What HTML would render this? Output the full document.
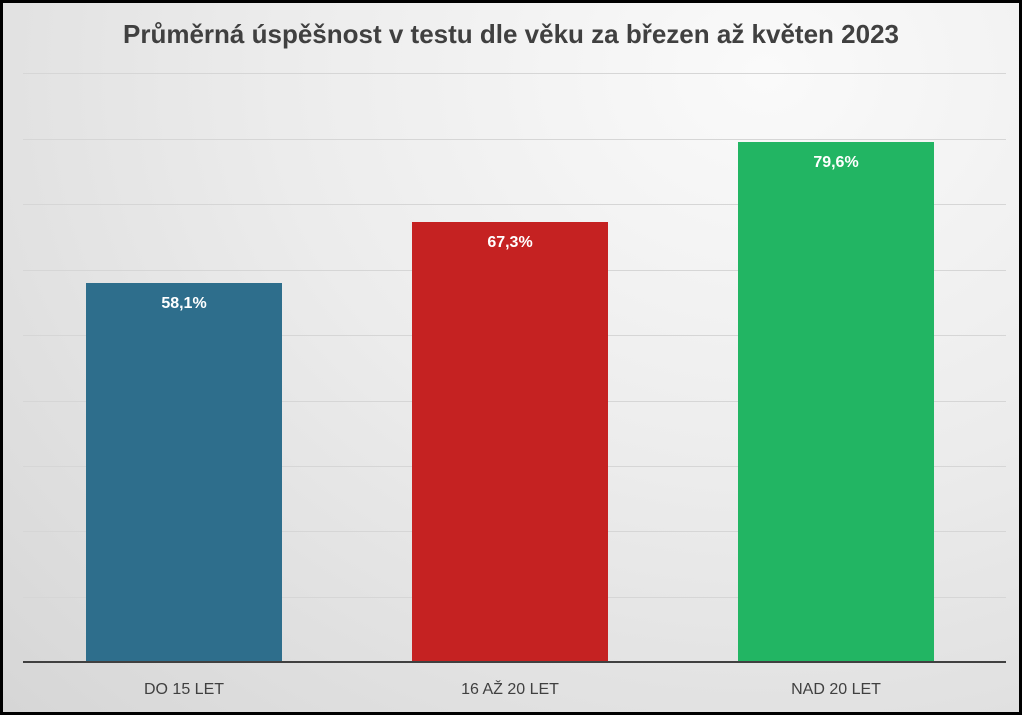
<!DOCTYPE html>
<html><head><meta charset="utf-8"><style>
html,body{margin:0;padding:0;width:1024px;height:717px;overflow:hidden;background:#fff}
#c{position:absolute;left:0;top:0;width:1016px;height:709px;border:3px solid #000;
background:radial-gradient(ellipse at 75% 10%,#fafafa 0%,#ececec 45%,#d6d6d6 100%);font-family:"Liberation Sans",sans-serif}
.g{position:absolute;left:20px;width:983px;height:1px;background:#d6d6d6}
.bar{position:absolute;width:196px}
.v{position:absolute;width:196px;text-align:center;color:#fff;font-weight:bold;font-size:16px}
.l{position:absolute;width:300px;text-align:center;color:#404040;font-size:16px;top:678px}
</style></head><body><div id="c">
<div style="position:absolute;top:16px;width:100%;text-align:center;font-weight:bold;font-size:26px;color:#404040">Průměrná úspěšnost v testu dle věku za březen až květen 2023</div>
<div class="g" style="top:70px"></div><div class="g" style="top:136px"></div><div class="g" style="top:201px"></div>
<div class="g" style="top:267px"></div><div class="g" style="top:332px"></div><div class="g" style="top:398px"></div>
<div class="g" style="top:463px"></div><div class="g" style="top:528px"></div><div class="g" style="top:594px"></div>
<div class="bar" style="left:83px;top:280px;height:379px;background:#2e6e8c"></div>
<div class="bar" style="left:409px;top:219px;height:440px;background:#c52222"></div>
<div class="bar" style="left:735px;top:139px;height:520px;background:#22b563"></div>
<div class="v" style="left:83px;top:292px">58,1%</div>
<div class="v" style="left:409px;top:231px">67,3%</div>
<div class="v" style="left:735px;top:151px">79,6%</div>
<div style="position:absolute;left:20px;top:658px;width:983px;height:2px;background:#404040"></div>
<div class="l" style="left:31px">DO 15 LET</div>
<div class="l" style="left:357px">16 AŽ 20 LET</div>
<div class="l" style="left:683px">NAD 20 LET</div>
</div></body></html>
